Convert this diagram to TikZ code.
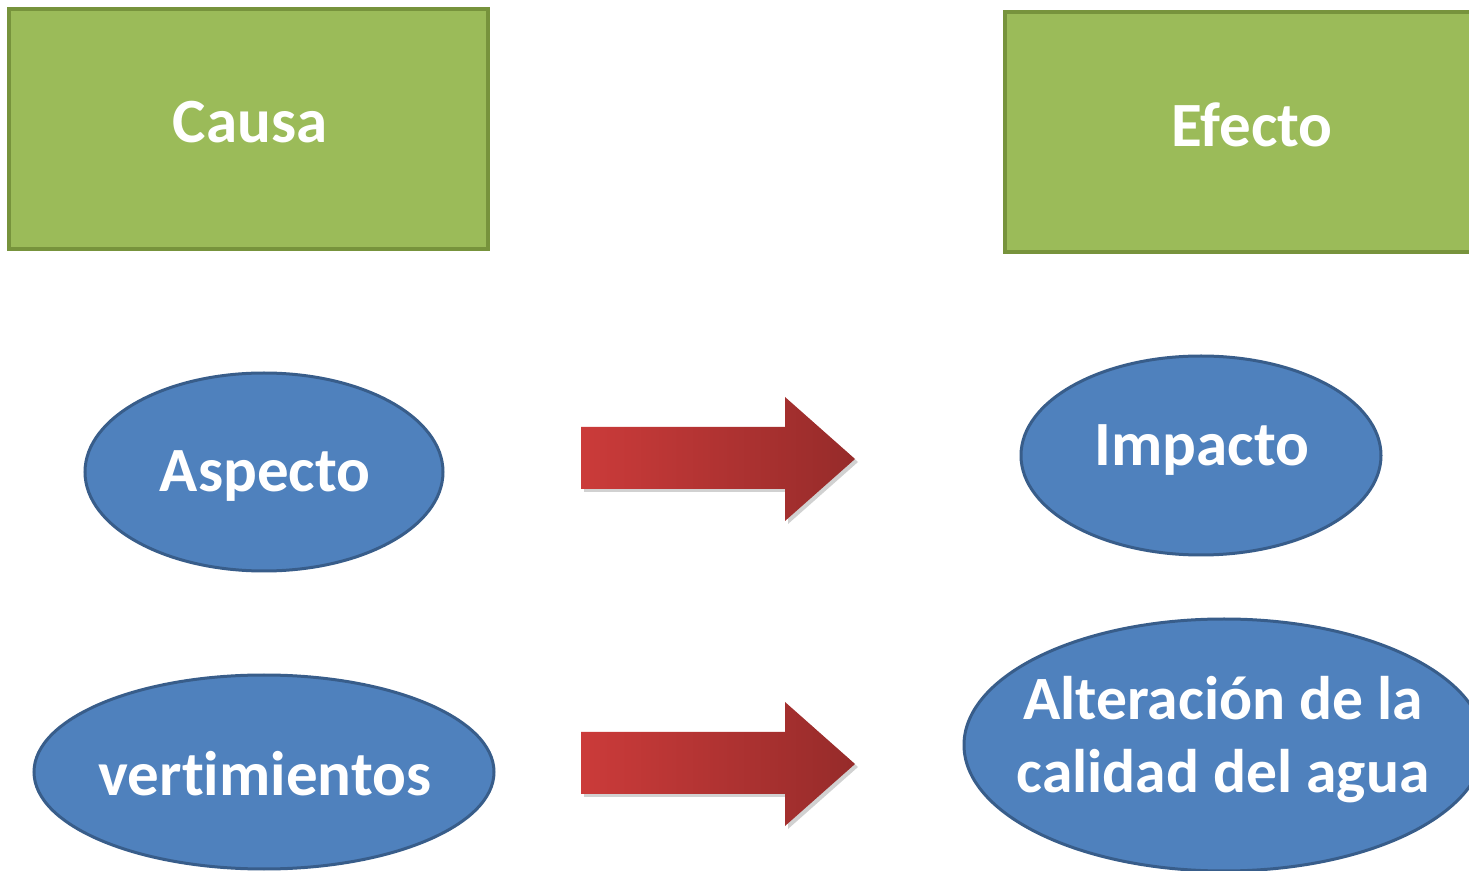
\documentclass[tikz,border=0pt]{standalone}
\usepackage{fontspec}
\setmainfont{Carlito}[Ligatures=NoCommon]
\usetikzlibrary{shapes.geometric}
\definecolor{gfill}{HTML}{9BBB59}
\definecolor{gline}{HTML}{77933C}
\definecolor{bfill}{HTML}{4F81BD}
\definecolor{bline}{HTML}{385D8A}
\definecolor{rleft}{HTML}{CB3B3A}
\definecolor{rright}{HTML}{962B2A}
\tikzset{
  greenbox/.style={draw=gline, fill=gfill, line width=2pt, inner sep=0pt},
  blueoval/.style={ellipse, draw=bline, fill=bfill, line width=1.5pt, inner sep=0pt},
  lbl/.style={text=white, font=\bfseries\fontsize{31.5}{36.5}\selectfont, align=center, inner sep=0pt},
  blockarrow/.style={left color=rleft, right color=rright, shading angle=90}
}
\begin{document}
\begin{tikzpicture}[x=0.5pt, y=-0.5pt]
\useasboundingbox (0,0) rectangle (1469,871);
\clip (0,0) rectangle (1469,871);
\fill[white] (0,0) rectangle (1469,871);
% boxes
\node[greenbox, minimum width=239.5pt, minimum height=120pt] (causa) at (248.5,129) {};
\node[lbl] (causaT) at (250,122) {Causa};
\node[greenbox, minimum width=245pt, minimum height=120pt] (efecto) at (1250,132) {};
\node[lbl] (efectoT) at (1252,125) {Efecto};
% ovals
\node[blueoval, minimum width=179pt, minimum height=99pt] (aspecto) at (264,472) {};
\node[lbl] (aspectoT) at (265,476) {Aspecto};
\node[blueoval, minimum width=230pt, minimum height=97pt] (vert) at (264,772) {};
\node[lbl] (vertT) at (265,774) {vertimientos};
\node[blueoval, minimum width=180pt, minimum height=99.5pt] (impacto) at (1201,455.5) {};
\node[lbl] (impactoT) at (1202,450) {Impacto};
\node[blueoval, minimum width=260pt, minimum height=126pt] (alter) at (1224,745) {};
\node[lbl, font=\bfseries\fontsize{30.8}{36.5}\selectfont] (alterT) at (1223,740) {Alteración de la\\calidad del agua};
% block arrows
\foreach \dy/\nm in {0/a1, 305/a2}{
  \fill[black!18] (584,430+\dy) -- (788,430+\dy) -- (788,400+\dy) -- (858,462+\dy) -- (788,524+\dy) -- (788,492+\dy) -- (584,492+\dy) -- cycle;
  \shade[blockarrow] (581,427+\dy) -- (785,427+\dy) -- (785,397+\dy) -- (855,459+\dy) -- (785,521+\dy) -- (785,489+\dy) -- (581,489+\dy) -- cycle;
}
\end{tikzpicture}
\end{document}
